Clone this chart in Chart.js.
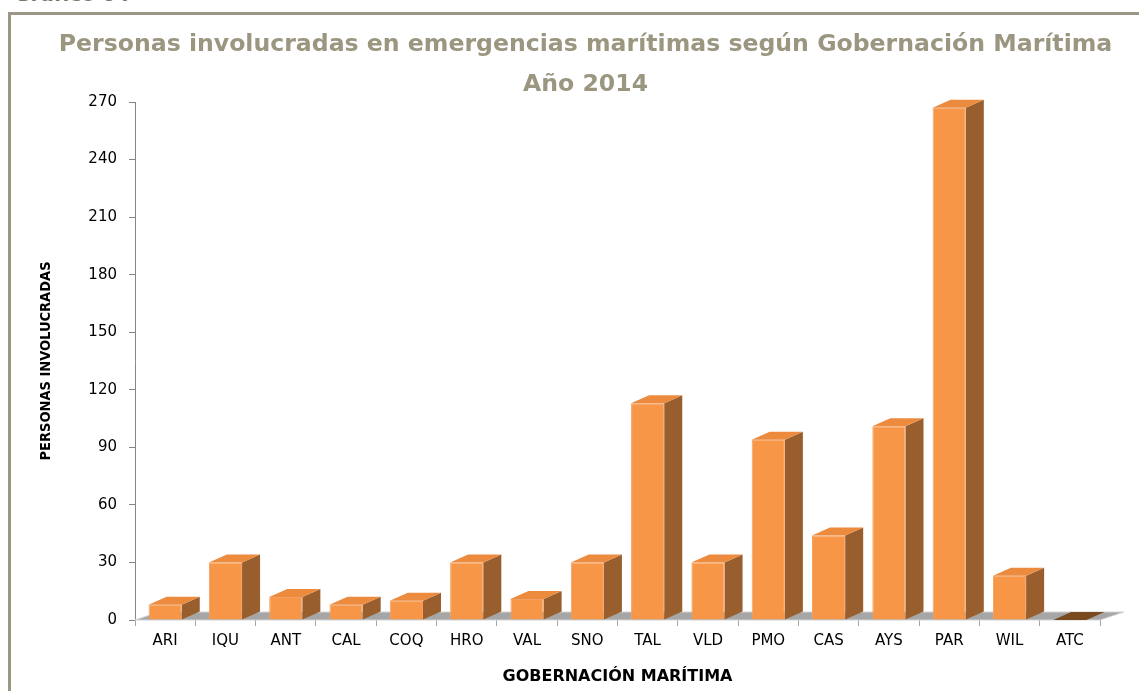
<!DOCTYPE html>
<html lang="es">
<head>
<meta charset="utf-8">
<title>Personas involucradas en emergencias marítimas</title>
<script src="https://cdn.jsdelivr.net/npm/chart.js@4.4.1/dist/chart.umd.min.js"></script>
<style>
  html, body { margin: 0; padding: 0; background: #fff; }
  #wrap { position: relative; width: 1139px; height: 691px; overflow: hidden; }
  #marco { position: absolute; left: 8px; top: 12px; width: 1200px; height: 800px;
           border-top: 3px solid #9b9784; border-left: 3px solid #9b9784; }
  #grafico-num { position: absolute; left: 14px; top: -16px; font: bold 20px 'DejaVu Sans';
                 line-height: 20px; color: #7a7566; white-space: nowrap; }
  #titulo { position: absolute; left: 16px; top: 23px; width: 1139px; text-align: center;
            font: bold 23.6px 'DejaVu Sans'; line-height: 40px; color: #9b9680; }
  #grafico { position: absolute; left: 0; top: 0; }
</style>
</head>
<body>
<div id="wrap">
  <div id="grafico-num">Gráfico 04</div>
  <div id="marco"></div>
  <canvas id="grafico" width="1139" height="691"></canvas>
  <div id="titulo">Personas involucradas en emergencias marítimas según Gobernación Marítima<br>Año 2014</div>
</div>

<script>
// ---- datos ----
const gobernaciones = ['ARI','IQU','ANT','CAL','COQ','HRO','VAL','SNO','TAL','VLD','PMO','CAS','AYS','PAR','WIL','ATC'];
const personas      = [8, 30, 12, 8, 10, 30, 11, 30, 113, 30, 94, 44, 101, 267, 23, 0];
const ticksY        = [0, 30, 60, 90, 120, 150, 180, 210, 240, 270];

// efecto 3D (profundidad de columnas y del piso)
const COL_DX = 18, COL_DY = -8;
const PISO_DX = 24, PISO_DY = -8;

const cubo3d = {
  id: 'cubo3d',
  beforeDatasetsDraw(chart) {
    const { ctx, chartArea: a } = chart;
    ctx.save();

    // piso gris
    ctx.beginPath();
    ctx.moveTo(a.left, a.bottom);
    ctx.lineTo(a.right, a.bottom);
    ctx.lineTo(a.right + PISO_DX, a.bottom + PISO_DY);
    ctx.lineTo(a.left + PISO_DX, a.bottom + PISO_DY);
    ctx.closePath();
    ctx.fillStyle = '#a6a6a6';
    ctx.fill();
    ctx.strokeStyle = '#d4d4d4';
    ctx.lineWidth = 1;
    ctx.stroke();

    // caras laterales y tapas
    chart.getDatasetMeta(0).data.forEach(bar => {
      const { x, y, base, width } = bar.getProps(['x', 'y', 'base', 'width'], true);
      const l = x - width / 2, r = x + width / 2;
      const alto = base - y;

      if (alto > 0.5) {
        ctx.beginPath();
        ctx.moveTo(r, y);
        ctx.lineTo(r + COL_DX, y + COL_DY);
        ctx.lineTo(r + COL_DX, base + COL_DY);
        ctx.lineTo(r, base);
        ctx.closePath();
        ctx.fillStyle = '#985e2e';
        ctx.fill();
      }

      ctx.beginPath();
      ctx.moveTo(l, y);
      ctx.lineTo(l + COL_DX, y + COL_DY);
      ctx.lineTo(r + COL_DX, y + COL_DY);
      ctx.lineTo(r, y);
      ctx.closePath();
      ctx.fillStyle = alto > 0.5 ? '#ec8a3e' : '#7a4a1f';
      ctx.fill();
    });

    ctx.restore();
  }
};

new Chart(document.getElementById('grafico'), {
  type: 'bar',
  data: {
    labels: gobernaciones,
    datasets: [{
      data: personas,
      backgroundColor: '#f79646',
      borderColor: '#f4a062',
      borderWidth: 1,
      categoryPercentage: 1,
      barPercentage: 0.55
    }]
  },
  options: {
    responsive: false,
    animation: false,
    layout: { padding: { top: 102, right: 39, bottom: 0, left: 0 } },
    plugins: {
      legend: { display: false },
      tooltip: { enabled: false }
    },
    scales: {
      x: {
        border: { display: false },
        grid: { drawOnChartArea: false, tickLength: 6, color: '#a6a6a6' },
        ticks: { font: { family: 'DejaVu Sans', size: 15 }, color: '#000', padding: 6 },
        title: {
          display: true,
          text: 'GOBERNACIÓN MARÍTIMA',
          font: { family: 'DejaVu Sans', size: 16, weight: 'bold' },
          color: '#000',
          padding: { top: 0, bottom: 5 }
        },
        afterFit(scale) { scale.height = 71; }
      },
      y: {
        min: 0,
        max: 270,
        border: { display: true, color: '#868686' },
        grid: { drawOnChartArea: false, tickLength: 6, color: '#868686' },
        afterBuildTicks(scale) { scale.ticks = ticksY.map(v => ({ value: v })); },
        ticks: { font: { family: 'DejaVu Sans', size: 15 }, color: '#000', padding: 12 },
        title: {
          display: true,
          text: 'PERSONAS INVOLUCRADAS',
          font: { family: 'DejaVu Sans Condensed', size: 14.5, weight: 'bold' },
          color: '#000',
          padding: { top: 38, bottom: 0 }
        },
        afterFit(scale) { scale.width = 135; }
      }
    }
  },
  plugins: [cubo3d]
});
</script>
</body>
</html>
